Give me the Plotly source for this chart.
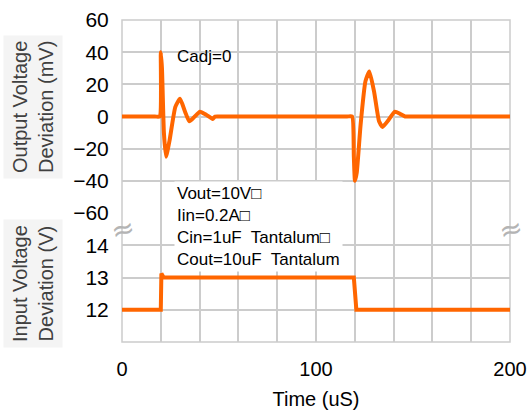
import plotly.graph_objects as go

# Output voltage deviation (mV) vs time (uS)
t_out = [0, 17, 19.4, 20.0, 20.6, 21.6, 22.7, 24.5, 27.5, 29.9, 32.5, 34.7, 37.5, 40.2, 43.5, 46.7, 48.0, 51,
         116, 118.6, 119.5, 120.1, 121.0, 123.0, 125.5, 127.5, 130.0, 132.5, 134.3, 137.5, 140.7, 143.5, 145.9, 149, 200]
v_out = [0, 0, 0, 40, 30, -10, -25, -15, 6, 11, 3, -3, 0, 3, 1, -1.5, 0, 0,
         0, 0, -25, -40, -35, -5, 22, 28, 15, -3, -6.5, -2, 3, 1.5, 0, 0, 0]

# Input voltage (V) vs time (uS)
t_in = [0, 20.0, 20.3, 21.5, 119.5, 120.8, 200]
v_in = [12, 12, 13.12, 13.0, 13.0, 12.0, 12.0]

x_ticks = list(range(0, 201, 20))
x_labels = ["0", "", "", "", "", "100", "", "", "", "", "200"]
y1_ticks = [-60, -40, -20, 0, 20, 40, 60]
y2_ticks = [11, 12, 13, 14, 15]
y2_labels = ["", "12", "13", "14", ""]

ORANGE = "#ff6600"
GRID = "#cccccc"
FONT = "Liberation Sans, Arial, sans-serif"

fig = go.Figure()
fig.add_trace(go.Scatter(x=t_out, y=v_out, mode="lines", xaxis="x", yaxis="y",
                         line=dict(color=ORANGE, width=4, shape="spline", smoothing=0.5),
                         showlegend=False, hoverinfo="skip"))
fig.add_trace(go.Scatter(x=t_in, y=v_in, mode="lines", xaxis="x", yaxis="y2",
                         line=dict(color=ORANGE, width=4),
                         showlegend=False, hoverinfo="skip"))

split = (342 - 213) / 322.0

fig.update_layout(
    width=529, height=412,
    margin=dict(l=122, r=19, t=20, b=70),
    paper_bgcolor="white", plot_bgcolor="white",
    font=dict(family=FONT, color="black"),
    xaxis=dict(range=[0, 200], tickvals=x_ticks, ticktext=x_labels, automargin=False,
               showgrid=True, gridcolor=GRID, gridwidth=1.5, zeroline=False,
               anchor="y2", ticks="outside", ticklen=9, tickcolor="rgba(0,0,0,0)",
               tickfont=dict(size=20, family=FONT),
               title=dict(text="Time (uS)", font=dict(size=20, family=FONT), standoff=12)),
    yaxis=dict(range=[-60, 60], domain=[split, 1], tickvals=y1_ticks, automargin=False,
               showgrid=True, gridcolor=GRID, gridwidth=1.5, zeroline=False,
               anchor="x", ticks="outside", ticklen=8, tickcolor="rgba(0,0,0,0)",
               tickfont=dict(size=21, family=FONT)),
    yaxis2=dict(range=[11, 15], domain=[0, split], tickvals=y2_ticks, ticktext=y2_labels,
                automargin=False,
                showgrid=True, gridcolor=GRID, gridwidth=1.5, zeroline=False,
                anchor="x", ticks="outside", ticklen=8, tickcolor="rgba(0,0,0,0)",
                tickfont=dict(size=21, family=FONT)),
)

fig.add_shape(type="rect", xref="paper", yref="paper", x0=0, x1=1, y0=0, y1=1,
              line=dict(color=GRID, width=1.5), layer="below")

ann = []
# y axis titles
ann.append(dict(xref="paper", yref="paper", x=(33 - 122) / 388.0, y=(342 - 107) / 322.0,
                text="Output Voltage<br>Deviation (mV)", textangle=-90, showarrow=False,
                font=dict(size=20, family=FONT, color="#404040"), bgcolor="#f4f4f4",
                borderpad=5, xanchor="center", yanchor="middle"))
ann.append(dict(xref="paper", yref="paper", x=(33 - 122) / 388.0, y=(342 - 284) / 322.0,
                text="Input Voltage<br>Deviation (V)", textangle=-90, showarrow=False,
                font=dict(size=20, family=FONT, color="#404040"), bgcolor="#f4f4f4",
                borderpad=5, xanchor="center", yanchor="middle"))
# Cadj label
ann.append(dict(xref="x", yref="y", x=27.5, y=37, text="Cadj=0", showarrow=False,
                xanchor="left", yanchor="middle", font=dict(size=17, family=FONT)))
# conditions box
ann.append(dict(xref="x", yref="paper", x=27, y=(342 - 181) / 322.0,
                text="Vout=10V\u25a1<br>Iin=0.2A\u25a1<br>Cin=1uF  Tantalum\u25a1<br>Cout=10uF  Tantalum",
                showarrow=False, align="left", xanchor="left", yanchor="top",
                bgcolor="white", borderpad=2, font=dict(size=17, family=FONT)))
# break marks
for xp in [0, 1]:
    ann.append(dict(xref="paper", yref="paper", x=xp, y=(342 - 229) / 322.0, text="\u2248",
                    showarrow=False, textangle=-15, font=dict(size=28, family="DejaVu Sans", color="#b4b4b4"),
                    xanchor="center", yanchor="middle"))
fig.update_layout(annotations=ann)

fig.write_html("out.html", config={"displayModeBar": False},
               post_script="document.body.style.margin='0';")
